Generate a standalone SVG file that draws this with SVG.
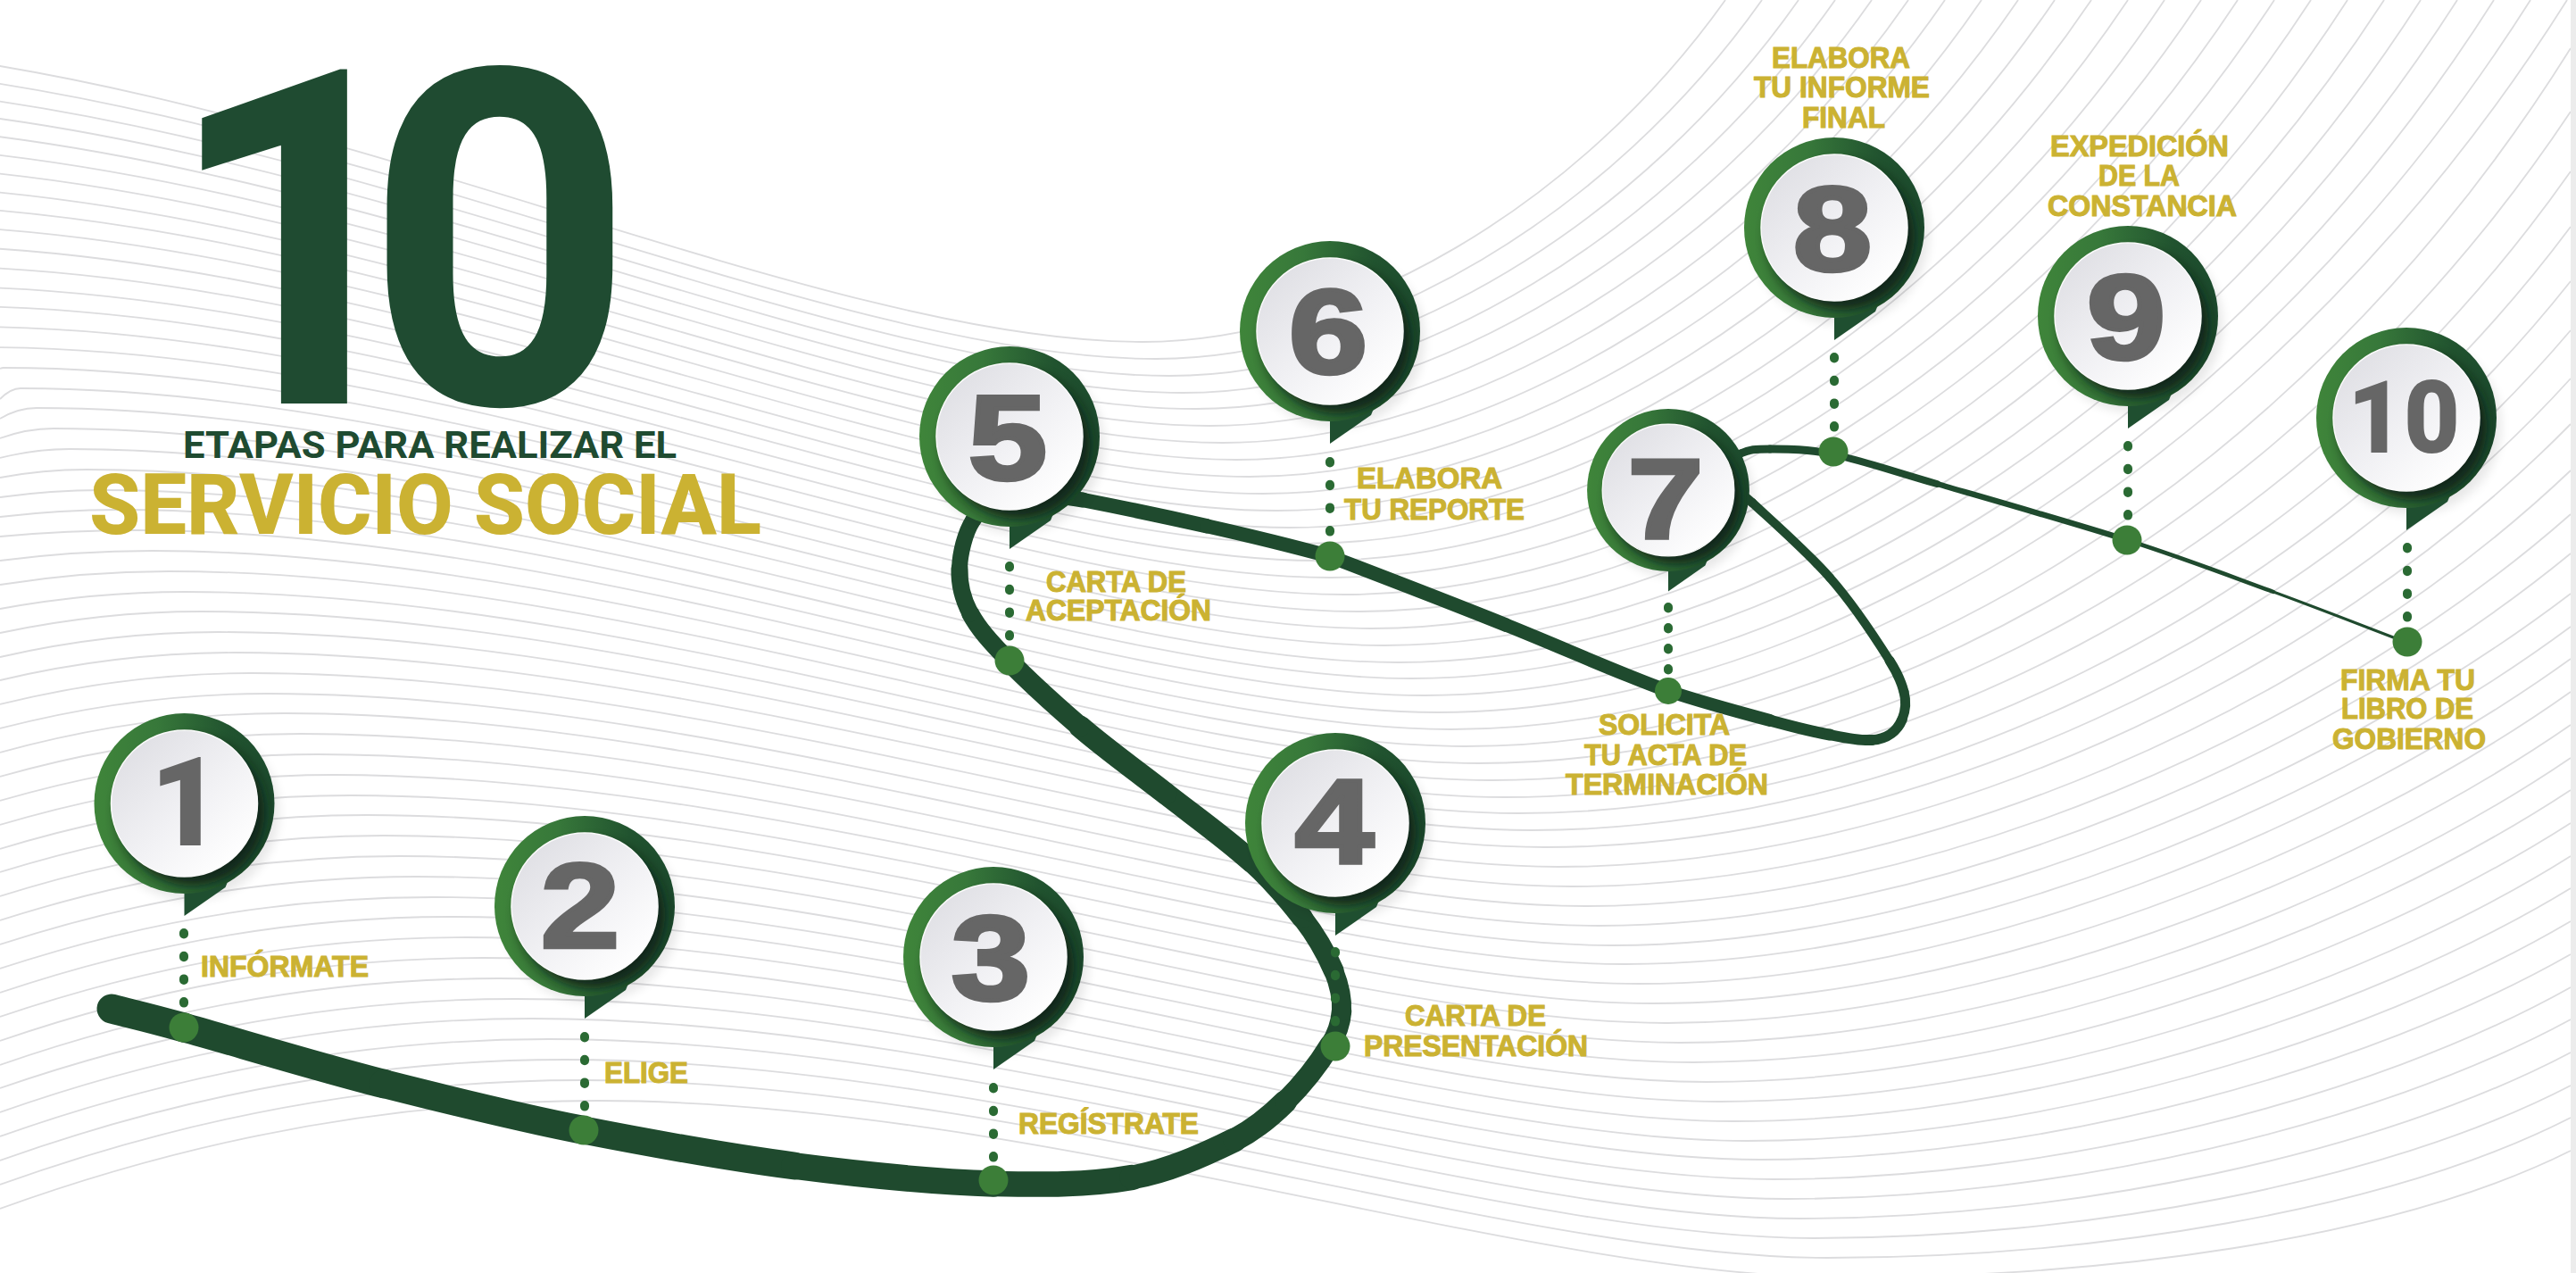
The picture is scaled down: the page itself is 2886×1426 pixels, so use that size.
<svg xmlns="http://www.w3.org/2000/svg" width="2886" height="1426" viewBox="0 0 2886 1426">
<style>
.bg{fill:none;stroke:#dcdcde;stroke-width:1.8}
.ln{fill:none;stroke:#1f4a2e;stroke-linecap:round}
.dots{fill:none;stroke:#2a6a33;stroke-width:10;stroke-linecap:round}
.dot{fill:#3c7e38}
.num{font-family:"Liberation Sans",Arial,sans-serif;font-weight:700;fill:#666;stroke:#666;stroke-width:4.5;text-anchor:middle}
.num2{font-family:Roboto,sans-serif;font-weight:900;fill:#666}
.lb{font-family:"Liberation Sans",Arial,sans-serif;font-weight:700;font-size:33px;fill:#cbb232;stroke:#cbb232;stroke-width:1.1}
</style>
<defs>
<linearGradient id="ring" x1="0" y1="0" x2="1" y2="0"><stop offset="0" stop-color="#3f853a"/><stop offset=".35" stop-color="#37783a"/><stop offset=".75" stop-color="#21532f"/><stop offset="1" stop-color="#1c4a2d"/></linearGradient>
<linearGradient id="face" x1=".1" y1=".1" x2=".85" y2=".9"><stop offset="0" stop-color="#dfdfe4"/><stop offset=".55" stop-color="#f1f1f4"/><stop offset="1" stop-color="#fff"/></linearGradient>
<filter id="b8" x="-30%" y="-30%" width="160%" height="160%"><feGaussianBlur stdDeviation="6"/></filter>
<filter id="b6" x="-30%" y="-30%" width="160%" height="160%"><feGaussianBlur stdDeviation="7"/></filter>
<clipPath id="disk"><circle r="101"/></clipPath>
<g id="pin">
<circle cx="7" cy="9" r="99" fill="#000" opacity=".09" filter="url(#b8)"/>
<polygon points="0,60 0,126 46,94 60,60" fill="#1f4f30"/>
<circle r="101" fill="url(#ring)"/>
<g clip-path="url(#disk)"><circle cx="8" cy="10" r="82" fill="#0b1f12" opacity=".85" filter="url(#b6)"/></g>
<circle r="82" fill="url(#face)" stroke="#fafafa" stroke-width="1.5"/>
</g>
</defs>
<rect width="2886" height="1426" fill="#fff"/>
<g id="background-lines" class="bg">
<path d="M-292,47C258,47 887,383 1280,383C1509,383 1770,229 1933,0"/>
<path d="M-274,70C275,70 903,402 1295,402C1533,402 1804,240 1974,0"/>
<path d="M-255,93C293,93 919,421 1310,421C1557,421 1839,250 2015,0"/>
<path d="M-237,115C310,115 935,440 1325,440C1581,440 1873,260 2056,0"/>
<path d="M-218,138C327,138 951,458 1340,458C1605,458 1908,270 2097,0"/>
<path d="M-200,161C345,161 967,477 1355,477C1629,477 1942,282 2138,0"/>
<path d="M-181,184C362,184 982,496 1370,496C1653,496 1977,293 2179,0"/>
<path d="M-163,207C379,207 998,515 1385,515C1677,515 2011,305 2220,0"/>
<path d="M-144,229C396,229 1014,534 1400,534C1701,534 2046,314 2261,0"/>
<path d="M-126,252C414,252 1030,553 1415,553C1725,553 2080,326 2302,0"/>
<path d="M-107,275C431,275 1046,572 1430,572C1750,572 2115,337 2343,0"/>
<path d="M-89,298C448,298 1062,591 1445,591C1774,591 2149,350 2384,0"/>
<path d="M-70,321C466,321 1078,609 1460,609C1798,609 2184,362 2425,0"/>
<path d="M-52,343C483,343 1094,628 1476,628C1823,628 2218,372 2466,0"/>
<path d="M-33,366C500,366 1110,647 1491,647C1847,647 2253,384 2507,0"/>
<path d="M-15,389C518,389 1126,666 1506,666C1871,666 2287,397 2548,0"/>
<path d="M0,413Q2,412 4,412C535,412 1141,685 1521,685C1895,685 2322,409 2589,0"/>
<path d="M0,447Q12,435 23,435C552,435 1157,704 1536,704C1919,704 2357,422 2630,0"/>
<path d="M0,469Q20,457 41,457C569,457 1173,723 1551,723C1943,723 2391,431 2671,0"/>
<path d="M0,491Q30,480 60,480C587,480 1189,742 1566,742C1967,742 2426,445 2712,0"/>
<path d="M0,513Q39,503 78,503C604,503 1205,760 1581,760C1991,760 2460,457 2753,0"/>
<path d="M0,535Q48,526 97,526C621,526 1221,779 1596,779C2015,779 2495,471 2794,0"/>
<path d="M0,557Q57,549 115,549C639,549 1237,798 1611,798C2039,798 2529,483 2835,0"/>
<path d="M0,579Q67,571 134,571C656,571 1253,817 1626,817C2064,817 2564,495 2876,0"/>
<path d="M0,601Q76,594 152,594C673,594 1269,836 1641,836C2075,836 2570,550 2880,54"/>
<path d="M0,628Q85,617 171,617C690,617 1285,855 1656,855C2084,855 2574,584 2880,125"/>
<path d="M0,655Q94,640 189,640C708,640 1301,874 1671,874C2094,874 2578,621 2880,192"/>
<path d="M0,682Q104,663 208,663C725,663 1316,893 1686,893C2104,893 2582,653 2880,254"/>
<path d="M0,709Q113,685 226,685C742,685 1332,911 1701,911C2114,911 2585,687 2880,315"/>
<path d="M0,736Q122,708 245,708C760,708 1348,930 1716,930C2123,930 2589,713 2880,370"/>
<path d="M0,762Q131,731 263,731C777,731 1364,949 1731,949C2133,949 2593,740 2880,424"/>
<path d="M0,789Q141,754 282,754C794,754 1380,971 1746,971C2143,971 2596,764 2880,475"/>
<path d="M0,816Q150,777 300,777C811,777 1396,993 1761,993C2153,993 2600,793 2880,527"/>
<path d="M0,843Q159,799 319,799C829,799 1412,1015 1776,1015C2162,1015 2604,819 2880,576"/>
<path d="M0,870Q168,822 337,822C846,822 1428,1037 1791,1037C2172,1037 2608,843 2880,620"/>
<path d="M0,897Q178,845 356,845C863,845 1444,1059 1806,1059C2182,1059 2612,869 2880,665"/>
<path d="M0,924Q187,868 374,868C881,868 1460,1080 1821,1080C2192,1080 2615,898 2880,702"/>
<path d="M0,951Q196,891 393,891C898,891 1475,1102 1836,1102C2201,1102 2619,926 2880,738"/>
<path d="M0,977Q205,913 411,913C915,913 1491,1124 1852,1124C2212,1124 2623,957 2880,775"/>
<path d="M0,1004Q215,936 430,936C933,936 1507,1146 1867,1146C2222,1146 2627,987 2880,812"/>
<path d="M0,1031Q224,959 448,959C950,959 1523,1168 1882,1168C2231,1168 2630,1019 2880,849"/>
<path d="M0,1058Q233,982 467,982C967,982 1539,1190 1897,1190C2241,1190 2634,1047 2880,885"/>
<path d="M0,1085Q242,1005 485,1005C984,1005 1555,1212 1912,1212C2251,1212 2638,1077 2880,922"/>
<path d="M0,1112Q252,1027 504,1027C1002,1027 1571,1234 1927,1234C2261,1234 2642,1109 2880,959"/>
<path d="M0,1139Q261,1050 522,1050C1019,1050 1587,1256 1942,1256C2270,1256 2645,1138 2880,995"/>
<path d="M0,1166Q270,1073 541,1073C1036,1073 1603,1278 1957,1278C2280,1278 2649,1168 2880,1032"/>
<path d="M0,1193Q279,1096 559,1096C1054,1096 1619,1299 1972,1299C2290,1299 2653,1198 2880,1069"/>
<path d="M0,1219Q289,1119 578,1119C1071,1119 1635,1321 1987,1321C2300,1321 2657,1231 2880,1106"/>
<path d="M0,1246Q298,1141 596,1141C1088,1141 1650,1343 2002,1343C2309,1343 2661,1261 2880,1142"/>
<path d="M0,1273Q307,1164 615,1164C1106,1164 1666,1365 2017,1365C2319,1365 2664,1293 2880,1179"/>
<path d="M0,1300Q316,1187 633,1187C1123,1187 1682,1387 2032,1387C2329,1387 2668,1326 2880,1216"/>
<path d="M0,1327Q326,1210 652,1210C1140,1210 1698,1409 2047,1409C2339,1409 2672,1358 2880,1252"/>
<path d="M0,1354Q335,1233 670,1233C1157,1233 1714,1431 2062,1431C2348,1431 2676,1391 2880,1289"/>
</g>
<rect id="right-edge" x="2880" y="0" width="6" height="1426" fill="#ececec"/>
<g id="connectors">
<g id="route" class="ln">
<path stroke-width="33" d="M125,1130C152,1137 155,1137 206,1151"/>
<path stroke-width="32.500" d="M206,1151C257,1165 355,1195 430,1214"/>
<path stroke-width="32" d="M430,1214C505,1233 577,1251 654,1266"/>
<path stroke-width="31" d="M654,1266C731,1281 813,1296 890,1306"/>
<path stroke-width="29.500" d="M890,1306C967,1316 1050,1324 1113,1326"/>
<path stroke-width="28.500" d="M1113,1326C1165,1327 1217,1328 1268,1319"/>
<path stroke-width="27" d="M1268,1319C1308,1312 1346,1295 1383,1277"/>
<path stroke-width="26" d="M1383,1277C1404,1266 1423,1251 1440,1234"/>
<path stroke-width="24" d="M1440,1234C1459,1215 1476,1194 1490,1171"/>
<path stroke-width="22.500" d="M1490,1171C1497,1160 1502,1146 1503,1133"/>
<path stroke-width="22" d="M1503,1133C1504,1117 1500,1102 1494,1087"/>
<path stroke-width="23" d="M1494,1087C1485,1066 1473,1046 1459,1028"/>
<path stroke-width="24" d="M1459,1028C1442,1006 1423,984 1402,965"/>
<path stroke-width="25" d="M1402,965C1372,938 1338,914 1306,889"/>
<path stroke-width="25" d="M1306,889C1274,864 1239,839 1210,814"/>
<path stroke-width="23" d="M1210,814C1181,789 1150.500,761 1130,740"/>
<path stroke-width="20" d="M1130,740C1109.500,719 1096,704 1087,687"/>
<path stroke-width="19" d="M1087,687C1078,670 1074.500,654 1075,637"/>
<path stroke-width="18" d="M1075,637C1075.500,620 1081,597 1090,583"/>
<path stroke-width="18" d="M1090,583C1099,569 1110,559 1130,555"/>
<path stroke-width="17" d="M1130,555C1150,551 1179,555 1213,560"/>
<path stroke-width="16.500" d="M1213,560C1256.500,568.500 1304.500,578.500 1352,589.250"/>
<path stroke-width="16" d="M1352,589.250C1399.750,600 1447,611.500 1489,623"/>
<path stroke-width="15.500" d="M1489,623C1554.500,648 1622,674 1687,700"/>
<path stroke-width="15" d="M1687,700C1752,726 1814.500,754.500 1869,774"/>
<path stroke-width="14" d="M1869,774C1908,787 1953,799 1983,807"/>
<path stroke-width="13" d="M1983,807C2013,815 2029,819.500 2050,823"/>
<path stroke-width="12" d="M2050,823C2065,826 2083,830 2097,829"/>
<path stroke-width="11.500" d="M2097,829C2115,828 2126,818 2131,806"/>
<path stroke-width="11" d="M2131,806C2135,796 2136,786 2133,775"/>
<path stroke-width="11" d="M2133,775C2130,763 2124,751 2117,740"/>
<path stroke-width="10" d="M2117,740C2102.500,717 2076,676.500 2050,647"/>
<path stroke-width="10" d="M2050,647C2024,617.500 1984,582.500 1963,563"/>
<path stroke-width="10" d="M1963,563C1942,543.500 1927,539 1925,530"/>
<path stroke-width="9" d="M1925,530C1923,521 1940,512.500 1950,508"/>
<path stroke-width="9" d="M1950,508C1960,503.500 1966,503 1983,503"/>
<path stroke-width="9" d="M1983,503C2000,503 2023,502.500 2054,509"/>
<path stroke-width="8" d="M2054,509C2085,515.500 2115,526 2170,542"/>
<path stroke-width="6.500" d="M2170,542C2225,558 2320,585 2383,605"/>
<path stroke-width="4.500" d="M2383,605C2446,625 2495,644 2547,663"/>
<path stroke-width="3" d="M2547,663C2599,682 2647,701 2697,720"/>
</g>
<g class="dots" stroke-dasharray="1.500 24.200">
<path d="M206,1045V1130"/><path d="M655,1161V1245"/><path d="M1113,1218V1302"/><path d="M1496,1066V1150"/><path d="M1131,634V718"/><path d="M1490,517V601"/><path d="M2055,400V485"/><path d="M2384,499V584"/><path d="M2697,613V698"/>
<path stroke-dasharray="1.500 21.500" d="M1869,680V755"/>
</g>
<g class="dot">
<circle cx="206" cy="1151" r="16.500"/><circle cx="654" cy="1266" r="16.500"/><circle cx="1113" cy="1322" r="16.500"/><circle cx="1496" cy="1172" r="16.500"/><circle cx="1131" cy="740" r="16.500"/><circle cx="1490" cy="623" r="16.500"/><circle cx="1869" cy="774" r="15"/><circle cx="2054" cy="506" r="16.500"/><circle cx="2383" cy="605" r="16.500"/><circle cx="2697" cy="719" r="16.500"/>
</g>
</g>
<g id="title">
<text x="183 409" y="452" font-family="Roboto,sans-serif" font-weight="700" font-size="526" fill="#1f4b31">10</text>
<text x="205" y="513" textLength="553" lengthAdjust="spacingAndGlyphs" font-family="Roboto,sans-serif" font-weight="700" font-size="43" fill="#1f4b31">ETAPAS PARA REALIZAR EL</text>
<text x="100" y="598" textLength="753" lengthAdjust="spacingAndGlyphs" font-family="Roboto,sans-serif" font-weight="800" font-size="95" fill="#cbb232">SERVICIO SOCIAL</text>
</g>
<g id="node-1"><use href="#pin" transform="translate(206.500,900)"/><text class="num2" x="168" y="947" font-size="139">1</text>
<text class="lb" x="225" y="1094" textLength="188" lengthAdjust="spacingAndGlyphs">INFÓRMATE</text></g>
<g id="node-2"><use href="#pin" transform="translate(655,1015)"/><text class="num" x="650" y="1061" font-size="133" textLength="88" lengthAdjust="spacingAndGlyphs">2</text>
<text class="lb" x="677" y="1213" textLength="94" lengthAdjust="spacingAndGlyphs">ELIGE</text></g>
<g id="node-3"><use href="#pin" transform="translate(1113,1072)"/><text class="num" x="1110" y="1120" font-size="133" textLength="88" lengthAdjust="spacingAndGlyphs">3</text>
<text class="lb" x="1141" y="1270" textLength="202" lengthAdjust="spacingAndGlyphs">REGÍSTRATE</text></g>
<g id="node-4"><use href="#pin" transform="translate(1496,922)"/><text class="num" x="1495" y="967" font-size="133" textLength="88" lengthAdjust="spacingAndGlyphs">4</text>
<text class="lb" x="1574" y="1149" textLength="158" lengthAdjust="spacingAndGlyphs">CARTA DE</text>
<text class="lb" x="1528" y="1183" textLength="251" lengthAdjust="spacingAndGlyphs">PRESENTACIÓN</text></g>
<g id="node-5"><use href="#pin" transform="translate(1131,489)"/><text class="num" x="1129" y="537" font-size="133" textLength="88" lengthAdjust="spacingAndGlyphs">5</text>
<text class="lb" x="1172" y="663" textLength="157" lengthAdjust="spacingAndGlyphs">CARTA DE</text>
<text class="lb" x="1149" y="695" textLength="208" lengthAdjust="spacingAndGlyphs">ACEPTACIÓN</text></g>
<g id="node-6"><use href="#pin" transform="translate(1490,371)"/><text class="num" x="1488" y="418" font-size="133" textLength="88" lengthAdjust="spacingAndGlyphs">6</text>
<text class="lb" x="1520" y="547" textLength="163" lengthAdjust="spacingAndGlyphs">ELABORA</text>
<text class="lb" x="1506" y="582" textLength="202" lengthAdjust="spacingAndGlyphs">TU REPORTE</text></g>
<g id="node-7"><use href="#pin" transform="translate(1869,549) scale(.9)"/><text class="num" x="1866" y="603" font-size="126" textLength="84" lengthAdjust="spacingAndGlyphs">7</text>
<text class="lb" x="1791" y="823" textLength="147" lengthAdjust="spacingAndGlyphs">SOLICITA</text>
<text class="lb" x="1775" y="857" textLength="182" lengthAdjust="spacingAndGlyphs">TU ACTA DE</text>
<text class="lb" x="1754" y="890" textLength="227" lengthAdjust="spacingAndGlyphs">TERMINACIÓN</text></g>
<g id="node-8"><use href="#pin" transform="translate(2055,255)"/><text class="num" x="2053" y="303" font-size="133" textLength="88" lengthAdjust="spacingAndGlyphs">8</text>
<text class="lb" x="1985" y="76" textLength="155" lengthAdjust="spacingAndGlyphs">ELABORA</text>
<text class="lb" x="1965" y="109" textLength="197" lengthAdjust="spacingAndGlyphs">TU INFORME</text>
<text class="lb" x="2019" y="143" textLength="93" lengthAdjust="spacingAndGlyphs">FINAL</text></g>
<g id="node-9"><use href="#pin" transform="translate(2384,354)"/><text class="num" x="2382" y="402" font-size="133" textLength="88" lengthAdjust="spacingAndGlyphs">9</text>
<text class="lb" x="2297" y="175" textLength="200" lengthAdjust="spacingAndGlyphs">EXPEDICIÓN</text>
<text class="lb" x="2351" y="208" textLength="91" lengthAdjust="spacingAndGlyphs">DE LA</text>
<text class="lb" x="2294" y="242" textLength="212" lengthAdjust="spacingAndGlyphs">CONSTANCIA</text></g>
<g id="node-10"><use href="#pin" transform="translate(2696,468)"/><text class="num2" x="2630" y="507" font-size="114" textLength="126" lengthAdjust="spacingAndGlyphs">10</text>
<text class="lb" x="2622" y="773" textLength="151" lengthAdjust="spacingAndGlyphs">FIRMA TU</text>
<text class="lb" x="2623" y="805" textLength="148" lengthAdjust="spacingAndGlyphs">LIBRO DE</text>
<text class="lb" x="2613" y="839" textLength="172" lengthAdjust="spacingAndGlyphs">GOBIERNO</text></g>
</svg>
